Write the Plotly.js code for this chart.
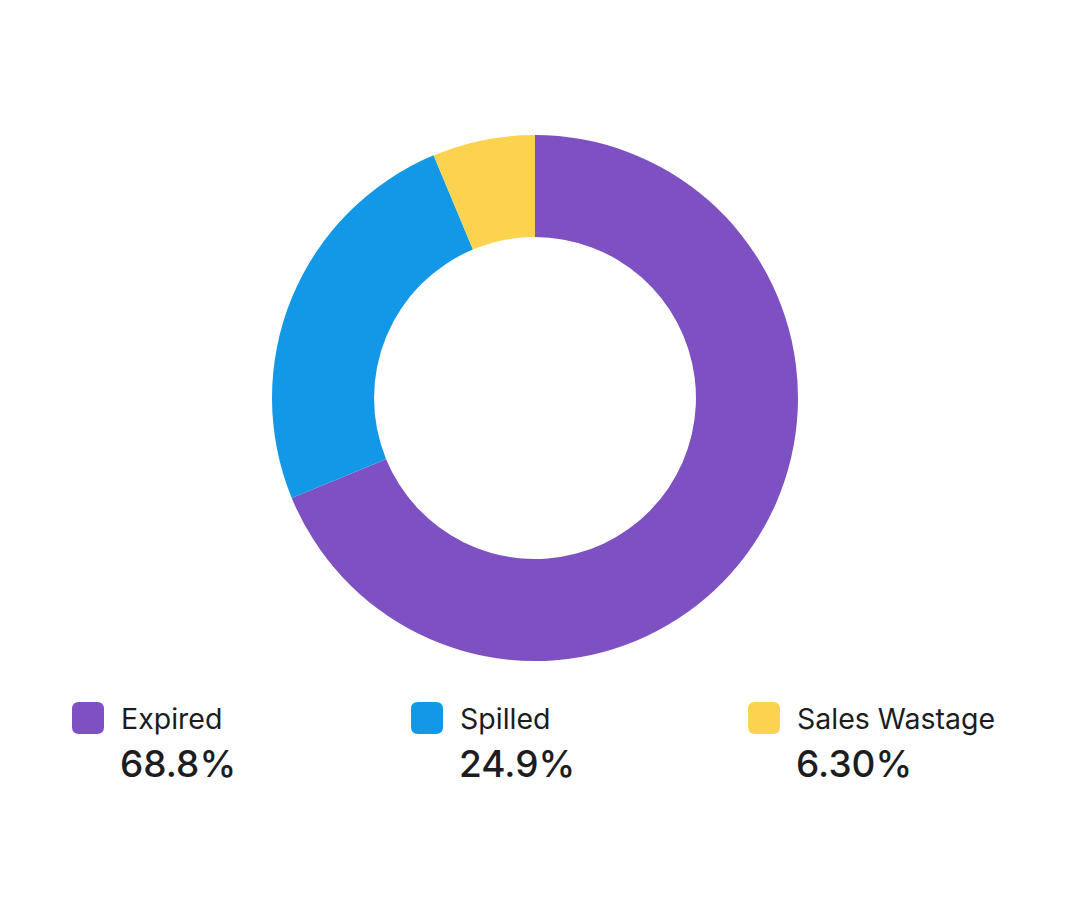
<!DOCTYPE html>
<html>
<head>
<meta charset="utf-8">
<script src="https://cdn.plot.ly/plotly-3.0.1.min.js"></script>
<style>html,body{margin:0;padding:0;background:#fff;}#chart{width:1066px;height:918px;}</style>
</head>
<body>
<div id="chart"></div>
<script>
const categories = ["Expired", "Spilled", "Sales Wastage"];
const values = [68.8, 24.9, 6.3];
const valueLabels = ["68.8%", "24.9%", "6.30%"];
const colors = ["#7E51C2", "#1398E7", "#FCD34F"];

const W = 1066, H = 918;
const px = x => x / W;
const py = y => 1 - y / H;

const cx = 535, cy = 398, R = 263;

const legendX = [72, 411, 748];
const shapes = [];
const annotations = [];
categories.forEach((c, i) => {
  const x0 = legendX[i], y0 = 702, s = 32, r = 7;
  const x1 = x0 + s, y1 = y0 + s;
  const path = `M ${px(x0 + r)} ${py(y0)} L ${px(x1 - r)} ${py(y0)} Q ${px(x1)} ${py(y0)} ${px(x1)} ${py(y0 + r)} ` +
    `L ${px(x1)} ${py(y1 - r)} Q ${px(x1)} ${py(y1)} ${px(x1 - r)} ${py(y1)} L ${px(x0 + r)} ${py(y1)} ` +
    `Q ${px(x0)} ${py(y1)} ${px(x0)} ${py(y1 - r)} L ${px(x0)} ${py(y0 + r)} Q ${px(x0)} ${py(y0)} ${px(x0 + r)} ${py(y0)} Z`;
  shapes.push({type: 'path', xref: 'paper', yref: 'paper', path: path, fillcolor: colors[i], line: {width: 0}});
  annotations.push({xref: 'paper', yref: 'paper', x: px(x0 + 47), y: py(718), xanchor: 'left', yanchor: 'middle',
    text: c, showarrow: false, font: {family: 'Inter', size: 28.5, color: '#1d1d1f'}});
  annotations.push({xref: 'paper', yref: 'paper', x: px(x0 + 46), y: py(763), xanchor: 'left', yanchor: 'middle',
    text: valueLabels[i], showarrow: false, font: {family: 'Inter', size: 37, color: '#1d1d1f', weight: 500}});
});

const data = [{
  type: 'pie',
  labels: categories,
  values: values,
  hole: 0.612,
  sort: false,
  direction: 'clockwise',
  rotation: 0,
  marker: {colors: colors, line: {width: 0}},
  textinfo: 'none',
  hoverinfo: 'label+percent',
  domain: {x: [px(cx - R), px(cx + R)], y: [py(cy + R), py(cy - R)]}
}];

const layout = {
  width: W, height: H,
  margin: {l: 0, r: 0, t: 0, b: 0},
  paper_bgcolor: '#ffffff',
  showlegend: false,
  shapes: shapes,
  annotations: annotations
};

Plotly.newPlot('chart', data, layout, {displayModeBar: false, staticPlot: true});
</script>
</body>
</html>
